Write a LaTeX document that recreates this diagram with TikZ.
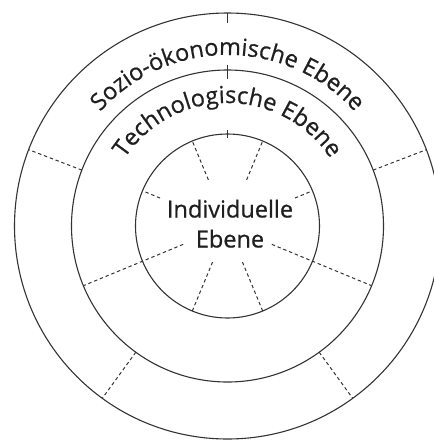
\documentclass[tikz,border=0pt]{standalone}
\usepackage{fontspec}
\setmainfont[FakeBold=0.6]{Open Sans}
\usetikzlibrary{calc,decorations.text}
\tikzset{
  ring/.style={draw=black!80, line width=1.1pt},
  tick/.style={draw=black!80, line width=1.1pt},
  divider/.style={draw=black!80, line width=1pt, dash pattern=on 3.4pt off 2.8pt},
  label/.style={font=\fontsize{23.5}{23.5}\selectfont, text=black!88, inner sep=0pt},
}
\begin{document}
\begin{tikzpicture}[x=1pt,y=1pt]
\useasboundingbox (0,0) rectangle (434,-440);
\clip (0,0) rectangle (434,-440);
\coordinate (C) at (227.5,-226);
% circles
\draw[ring] (C) circle[radius=213];
\draw[ring] (C) circle[radius=156];
\draw[ring] (C) circle[radius=92];
% top ticks
\draw[tick] ($(C)+(90:203)$) -- ($(C)+(90:213)$);
\draw[tick] ($(C)+(90:147)$) -- ($(C)+(90:161)$);
\draw[tick] ($(C)+(90:88)$) -- ($(C)+(90:96)$);
% outer ring dividers
\foreach \a in {21,159,234,306}
  \draw[divider] ($(C)+(\a:156)$) -- ($(C)+(\a:213)$);
% inner dividers
\foreach \a in {67.5,112.5}
  \draw[divider] ($(C)+(\a:50)$) -- ($(C)+(\a:92)$);
\foreach \a in {22.5,157.5}
  \draw[divider] ($(C)+(\a:73)$) -- ($(C)+(\a:92)$);
\foreach \a in {247.5,292.5}
  \draw[divider] ($(C)+(\a:39)$) -- ($(C)+(\a:92)$);
\foreach \a in {202.5,337.5}
  \draw[divider] ($(C)+(\a:48)$) -- ($(C)+(\a:156)$);
% arc texts
\path[decorate, decoration={text along path, text align=center,
  text={|\fontsize{23.5}{23.5}\selectfont\color{black!88}|Sozio-ökonomische Ebene}}]
  ($(C)+(180:171)$) arc[start angle=180, end angle=0, radius=171];
\path[decorate, decoration={text along path, text align=center,
  text={|\fontsize{23.5}{23.5}\selectfont\color{black!88}|Technologische Ebene}}]
  ($(C)+(180:123)$) arc[start angle=180, end angle=0, radius=123];
% centre text
\node[label, anchor=base] (ind) at (230,-217.5) {Individuelle};
\node[label, anchor=base] (ebe) at (230,-247.5) {Ebene};
\end{tikzpicture}
\end{document}
